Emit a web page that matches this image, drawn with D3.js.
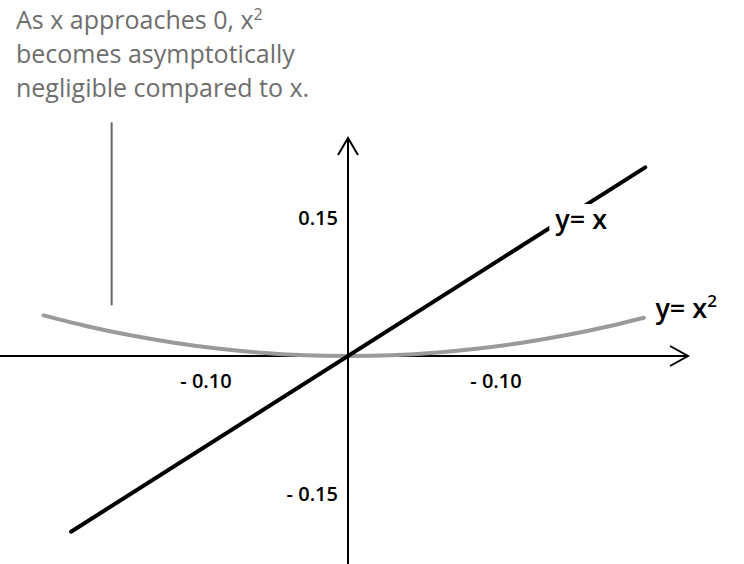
<!DOCTYPE html>
<html>
<head>
<meta charset="utf-8">
<script src="https://cdn.jsdelivr.net/npm/d3@7"></script>
<style>
  body { margin: 0; background: #fff; }
  svg { display: block; font-family: "Open Sans", sans-serif; }
  .tick-label { font-size: 20px; font-weight: 600; fill: #000; }
  .curve-label { font-size: 27px; font-weight: 600; fill: #000; }
  .note { font-size: 25px; fill: #6e6e6e; }
</style>
</head>
<body>
<div id="chart"></div>
<script>

// values
let lineX = [-0.191, 0.205];                 // y = x, drawn between these x
let parabolaX = [-0.21, -0.18, -0.15, -0.12, -0.09, -0.06, -0.03, 0, 0.03, 0.06, 0.09, 0.12, 0.15, 0.18, 0.204];
let parabolaY = [0.0441, 0.0324, 0.0225, 0.0144, 0.0081, 0.0036, 0.0009, 0, 0.0009, 0.0036, 0.0081, 0.0144, 0.0225, 0.0324, 0.0416];

let xTicks = [-0.10, 0.10];
let xTickLabels = ['- 0.10', '- 0.10'];
let yTicks = [0.15, -0.15];
let yTickLabels = ['0.15', '- 0.15'];

let xExtent = [-0.24, 0.2345];
let yExtent = [-0.227, 0.237];

let noteLines = ['As x approaches 0, x', 'becomes asymptotically', 'negligible compared to x.'];

let width = 744, height = 564;

let svg = d3.select('#chart').append('svg')
    .attr('width', width)
    .attr('height', height);

// one unit is 1450 px across, 920 px up
let xscale = d3.scaleLinear().domain([0, 0.1]).range([348, 493]);
let yscale = d3.scaleLinear().domain([0, 0.15]).range([356, 218]);

// --------------------------------------------------
// axes with open arrowheads
svg.append('line')
    .attr('x1', xscale(xExtent[0])).attr('x2', xscale(xExtent[1]))
    .attr('y1', yscale(0)).attr('y2', yscale(0))
    .attr('stroke', '#000').attr('stroke-width', 2);

svg.append('path')
    .attr('d', 'M' + (xscale(xExtent[1]) - 18) + ',' + (yscale(0) - 10) +
               'L' + xscale(xExtent[1]) + ',' + yscale(0) +
               'L' + (xscale(xExtent[1]) - 18) + ',' + (yscale(0) + 10))
    .attr('fill', 'none').attr('stroke', '#000').attr('stroke-width', 2);

svg.append('line')
    .attr('x1', xscale(0)).attr('x2', xscale(0))
    .attr('y1', yscale(yExtent[0])).attr('y2', yscale(yExtent[1]))
    .attr('stroke', '#000').attr('stroke-width', 2);

svg.append('path')
    .attr('d', 'M' + (xscale(0) - 10) + ',' + (yscale(yExtent[1]) + 17) +
               'L' + xscale(0) + ',' + yscale(yExtent[1]) +
               'L' + (xscale(0) + 10) + ',' + (yscale(yExtent[1]) + 17))
    .attr('fill', 'none').attr('stroke', '#000').attr('stroke-width', 2);

svg.selectAll('.xtick')
    .data(xTicks)
    .enter().append('text')
      .attr('class', 'tick-label xtick')
      .attr('x', d => xscale(d) + 3)
      .attr('y', yscale(0) + 32)
      .attr('text-anchor', 'middle')
      .text((d, i) => xTickLabels[i]);

svg.selectAll('.ytick')
    .data(yTicks)
    .enter().append('text')
      .attr('class', 'tick-label ytick')
      .attr('x', xscale(0) - 10)
      .attr('y', d => yscale(d) + 7)
      .attr('text-anchor', 'end')
      .text((d, i) => yTickLabels[i]);

// --------------------------------------------------
// y = x^2
let parabola = parabolaX.map((d, i) => [d, parabolaY[i]]);
svg.append('path')
    .datum(parabola)
    .attr('d', d3.line()
        .x(d => xscale(d[0]))
        .y(d => yscale(d[1]))
        .curve(d3.curveCatmullRom))
    .attr('fill', 'none')
    .attr('stroke', '#9a9a9a')
    .attr('stroke-width', 4)
    .attr('stroke-linecap', 'round');

// y = x
svg.append('path')
    .datum(lineX.map(d => [d, d]))
    .attr('d', d3.line().x(d => xscale(d[0])).y(d => yscale(d[1])))
    .attr('fill', 'none')
    .attr('stroke', '#000')
    .attr('stroke-width', 4)
    .attr('stroke-linecap', 'round');

// label for y = x sits on a white patch that cuts the line
let lbl = svg.append('g');
let bg = lbl.append('rect').attr('fill', '#fff');
let t1 = lbl.append('text')
    .attr('class', 'curve-label')
    .attr('x', xscale(0.143))
    .attr('y', yscale(0.138))
    .text('y= x');
let bb = t1.node().getBBox();
bg.attr('x', bb.x - 6).attr('y', bb.y + 4)
  .attr('width', bb.width + 10).attr('height', bb.height - 4);

let t2 = svg.append('text')
    .attr('class', 'curve-label')
    .attr('x', xscale(0.212))
    .attr('y', yscale(0.041))
    .text('y= x');
t2.append('tspan')
    .attr('dy', -11)
    .attr('font-size', 17)
    .text('2');

// --------------------------------------------------
// note with its pointer
svg.append('line')
    .attr('x1', xscale(-0.163)).attr('x2', xscale(-0.163))
    .attr('y1', yscale(0.254)).attr('y2', yscale(0.055))
    .attr('stroke', '#666').attr('stroke-width', 2);

noteLines.forEach(function(s, i) {
  let t = svg.append('text')
      .attr('class', 'note')
      .attr('x', 16)
      .attr('y', 29 + i * 34)
      .text(s);
  if (i == 0) {
    t.append('tspan')
        .attr('dy', -9)
        .attr('font-size', 16)
        .text('2');
  }
});

</script>
</body>
</html>
